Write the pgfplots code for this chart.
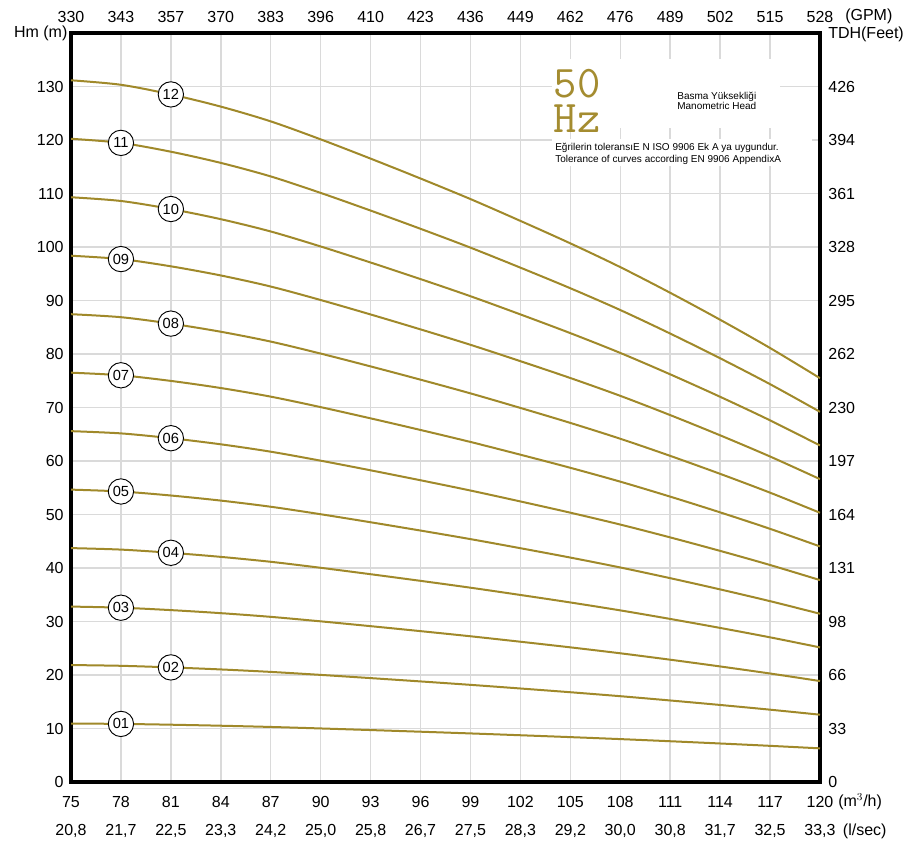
\documentclass[border=0pt]{standalone}
\usepackage{pgfplots}
\pgfplotsset{compat=1.18}
\usepackage{fontspec}
\setmainfont{Liberation Sans}
\definecolor{curve}{RGB}{160,137,42}
\definecolor{hzc}{RGB}{164,140,48}
\definecolor{gridc}{RGB}{218,218,218}
\begin{document}
\begin{tikzpicture}
\begin{axis}[name=ax, scale only axis, width=561.75pt, height=561.75pt,
  xmin=75, xmax=120, ymin=0, ymax=140,
  xtick={75,78,81,84,87,90,93,96,99,102,105,108,111,114,117,120},
  xticklabels={{75\\[7pt]20,8},{78\\[7pt]21,7},{81\\[7pt]22,5},{84\\[7pt]23,3},{87\\[7pt]24,2},{90\\[7pt]25,0},{93\\[7pt]25,8},{96\\[7pt]26,7},{99\\[7pt]27,5},{102\\[7pt]28,3},{105\\[7pt]29,2},{108\\[7pt]30,0},{111\\[7pt]30,8},{114\\[7pt]31,7},{117\\[7pt]32,5},{120\\[7pt]33,3}},
  ytick={0,10,20,30,40,50,60,70,80,90,100,110,120,130},
  grid=major, major grid style={gridc, line width=1.1pt},
  axis line style={line width=2.4pt},
  major tick length=0pt,
  tick label style={font=\fontsize{12}{14}\selectfont},
  xticklabel style={align=center, yshift=-7pt},
  yticklabel style={xshift=-2pt},
  /pgf/number format/assume math mode=true,
  pc/.style={color=curve, solid, mark=none, line width=1.5pt, smooth, tension=0.5},
]
\addplot[pc] coordinates {(75,10.93)(78,10.86)(81,10.71)(84,10.52)(87,10.29)(90,10.01)(93,9.71)(96,9.40)(99,9.08)(102,8.74)(105,8.39)(108,8.02)(111,7.62)(114,7.20)(117,6.76)(120,6.29)};
\addplot[pc] coordinates {(75,21.86)(78,21.72)(81,21.42)(84,21.04)(87,20.58)(90,20.02)(93,19.42)(96,18.80)(99,18.16)(102,17.48)(105,16.78)(108,16.04)(111,15.24)(114,14.40)(117,13.52)(120,12.58)};
\addplot[pc] coordinates {(75,32.79)(78,32.58)(81,32.13)(84,31.56)(87,30.87)(90,30.03)(93,29.13)(96,28.20)(99,27.24)(102,26.22)(105,25.17)(108,24.06)(111,22.86)(114,21.60)(117,20.28)(120,18.87)};
\addplot[pc] coordinates {(75,43.72)(78,43.44)(81,42.84)(84,42.08)(87,41.16)(90,40.04)(93,38.84)(96,37.60)(99,36.32)(102,34.96)(105,33.56)(108,32.08)(111,30.48)(114,28.80)(117,27.04)(120,25.16)};
\addplot[pc] coordinates {(75,54.65)(78,54.30)(81,53.55)(84,52.60)(87,51.45)(90,50.05)(93,48.55)(96,47.00)(99,45.40)(102,43.70)(105,41.95)(108,40.10)(111,38.10)(114,36.00)(117,33.80)(120,31.45)};
\addplot[pc] coordinates {(75,65.58)(78,65.16)(81,64.26)(84,63.12)(87,61.74)(90,60.06)(93,58.26)(96,56.40)(99,54.48)(102,52.44)(105,50.34)(108,48.12)(111,45.72)(114,43.20)(117,40.56)(120,37.74)};
\addplot[pc] coordinates {(75,76.51)(78,76.02)(81,74.97)(84,73.64)(87,72.03)(90,70.07)(93,67.97)(96,65.80)(99,63.56)(102,61.18)(105,58.73)(108,56.14)(111,53.34)(114,50.40)(117,47.32)(120,44.03)};
\addplot[pc] coordinates {(75,87.44)(78,86.88)(81,85.68)(84,84.16)(87,82.32)(90,80.08)(93,77.68)(96,75.20)(99,72.64)(102,69.92)(105,67.12)(108,64.16)(111,60.96)(114,57.60)(117,54.08)(120,50.32)};
\addplot[pc] coordinates {(75,98.37)(78,97.74)(81,96.39)(84,94.68)(87,92.61)(90,90.09)(93,87.39)(96,84.60)(99,81.72)(102,78.66)(105,75.51)(108,72.18)(111,68.58)(114,64.80)(117,60.84)(120,56.61)};
\addplot[pc] coordinates {(75,109.30)(78,108.60)(81,107.10)(84,105.20)(87,102.90)(90,100.10)(93,97.10)(96,94.00)(99,90.80)(102,87.40)(105,83.90)(108,80.20)(111,76.20)(114,72.00)(117,67.60)(120,62.90)};
\addplot[pc] coordinates {(75,120.23)(78,119.46)(81,117.81)(84,115.72)(87,113.19)(90,110.11)(93,106.81)(96,103.40)(99,99.88)(102,96.14)(105,92.29)(108,88.22)(111,83.82)(114,79.20)(117,74.36)(120,69.19)};
\addplot[pc] coordinates {(75,131.16)(78,130.32)(81,128.52)(84,126.24)(87,123.48)(90,120.12)(93,116.52)(96,112.80)(99,108.96)(102,104.88)(105,100.68)(108,96.24)(111,91.44)(114,86.40)(117,81.12)(120,75.48)};
% stage labels
\pgfplotsset{lbl/.style={draw=none, mark=none, nodes near coords={#1},
  every node near coord/.style={circle, draw=black, fill=white, line width=0.7pt, inner sep=0pt, minimum size=19pt, anchor=center, text=black, font=\fontsize{11}{11}\selectfont}}}
\addplot[lbl=01] coordinates {(78,10.86)};
\addplot[lbl=02] coordinates {(81,21.42)};
\addplot[lbl=03] coordinates {(78,32.58)};
\addplot[lbl=04] coordinates {(81,42.84)};
\addplot[lbl=05] coordinates {(78,54.30)};
\addplot[lbl=06] coordinates {(81,64.26)};
\addplot[lbl=07] coordinates {(78,76.02)};
\addplot[lbl=08] coordinates {(81,85.68)};
\addplot[lbl=09] coordinates {(78,97.74)};
\addplot[lbl=10] coordinates {(81,107.10)};
\addplot[lbl=11] coordinates {(78,119.46)};
\addplot[lbl=12] coordinates {(81,128.52)};
% white boxes and texts
\fill[white] (axis cs:103.9,122.3) rectangle (axis cs:117.6,135.2);
\fill[white] (axis cs:103.9,115.2) rectangle (axis cs:119.5,120.2);
\node[anchor=south west, align=left, inner sep=0pt, text=hzc, font=\ttfamily\fontsize{34}{26.2}\selectfont] at (axis cs:104.0,121.3) {50\\Hz};
\node[align=center, inner sep=0pt, font=\fontsize{7.5}{8}\selectfont] at (axis cs:113.8,127.3) {Basma Yüksekliği\\Manometric Head};
\node[align=left, anchor=west, inner sep=0pt, font=\fontsize{7.5}{8.75}\selectfont] at (axis cs:104.08,117.35) {Eğrilerin toleransıE N ISO 9906 Ek A ya uygundur.\\Tolerance of curves according EN 9906 AppendixA};
\end{axis}
\begin{axis}[scale only axis, width=561.75pt, height=561.75pt,
  at={(ax.south west)}, anchor=south west,
  xmin=75, xmax=120, ymin=0, ymax=140,
  axis x line*=top, axis y line*=right, axis line style={draw=none},
  xtick={75,78,81,84,87,90,93,96,99,102,105,108,111,114,117,120},
  xticklabels={330,343,357,370,383,396,410,423,436,449,462,476,489,502,515,528},
  ytick={0,10,20,30,40,50,60,70,80,90,100,110,120,130},
  yticklabels={0,33,66,98,131,164,197,230,262,295,328,361,394,426},
  major tick length=0pt,
  tick label style={font=\fontsize{12}{14}\selectfont},
  xticklabel style={yshift=4.4pt},
  yticklabel style={xshift=2.75pt},
  /pgf/number format/assume math mode=true,
]
\addplot[draw=none] coordinates {(75,0)};
\end{axis}
\node[anchor=east, inner sep=0pt, font=\fontsize{12}{14}\selectfont] at ([xshift=-2.5pt,yshift=-0.5pt]ax.north west) {Hm (m)};
\node[anchor=west, inner sep=0pt, font=\fontsize{12}{14}\selectfont] at ([xshift=6pt,yshift=-1pt]ax.north east) {TDH(Feet)};
\node[anchor=west, inner sep=0pt, font=\fontsize{12}{14}\selectfont] at ([xshift=18.75pt,yshift=12.75pt]ax.north east) {(GPM)};
\node[anchor=west, inner sep=0pt, font=\fontsize{12}{14}\selectfont] at ([xshift=13.5pt,yshift=-15pt]ax.south east) {(m$^3$/h)};
\node[anchor=west, inner sep=0pt, font=\fontsize{12}{14}\selectfont] at ([xshift=17pt,yshift=-37pt]ax.south east) {(l/sec)};
\pgfresetboundingbox
\path[use as bounding box] ([xshift=-53.25pt,yshift=-45.75pt]ax.south west) rectangle ([xshift=69.75pt,yshift=24.75pt]ax.north east);
\end{tikzpicture}
\end{document}
